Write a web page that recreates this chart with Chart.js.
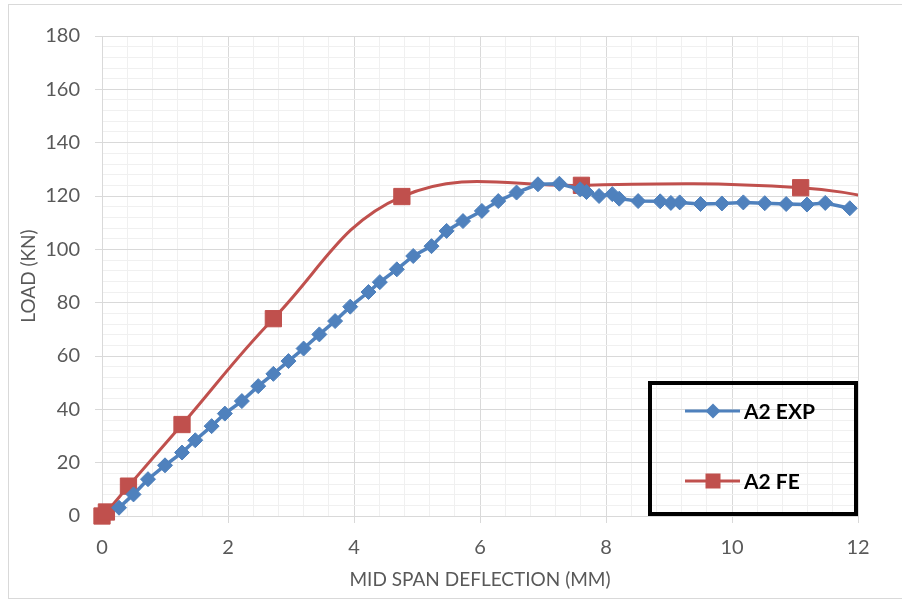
<!DOCTYPE html>
<html>
<head>
<meta charset="utf-8">
<script src="https://cdn.jsdelivr.net/npm/chart.js@4.4.1/dist/chart.umd.min.js"></script>
<style>
    body { margin: 0; background: #fff; }
    canvas { display: block; }
</style>
</head>
<body>
<canvas id="loadChart" width="902" height="601"></canvas>
<script>
// A2 experimental curve (mid span deflection in mm, load in kN)
const expDeflection = [0.27, 0.50, 0.73, 1.00, 1.27, 1.48, 1.74, 1.95, 2.22, 2.48, 2.72, 2.96, 3.20, 3.45, 3.70,
    3.94, 4.23, 4.41, 4.68, 4.94, 5.23, 5.47, 5.73, 6.03, 6.29, 6.58, 6.92, 7.26, 7.59, 7.69, 7.89, 8.10, 8.21,
    8.51, 8.86, 9.03, 9.17, 9.50, 9.84, 10.18, 10.52, 10.86, 11.19, 11.48, 11.87];
const expLoad = [3.1, 8.1, 13.8, 19.0, 23.8, 28.4, 33.7, 38.4, 43.1, 48.7, 53.3, 58.1, 62.8, 68.1, 73.1,
    78.5, 84.0, 87.7, 92.5, 97.5, 101.2, 106.9, 110.6, 114.4, 118.1, 121.3, 124.4, 124.6, 122.5, 121.5, 120.0, 120.7, 119.0,
    118.1, 118.0, 117.4, 117.6, 117.0, 117.2, 117.6, 117.3, 117.0, 116.8, 117.4, 115.4];

// A2 finite element curve
const feDeflection = [0, 0.07, 0.42, 1.27, 2.72, 4.76, 7.61, 11.09, 13.0];
const feLoad = [0, 1.5, 11.2, 34.3, 74.0, 119.8, 124.0, 123.1, 116.0];

const seriesNames = ['A2 EXP', 'A2 FE'];
const xMajorTicks = [0, 2, 4, 6, 8, 10, 12];
const yMajorTicks = [0, 20, 40, 60, 80, 100, 120, 140, 160, 180];

const BLUE = '#4F81BD';
const RED = '#C0504D';
const FONT = 'Lato, "Open Sans", sans-serif';

function toPoints(xs, ys) {
    return xs.map((x, i) => ({ x: x, y: ys[i] }));
}

function isMajor(value, list) {
    return list.some(v => Math.abs(v - value) < 1e-6);
}

// light outer frame like the spreadsheet chart border
const framePlugin = {
    id: 'frame',
    beforeDraw(chart) {
        const ctx = chart.ctx;
        ctx.save();
        ctx.fillStyle = '#fff';
        ctx.fillRect(0, 0, chart.width, chart.height);
        ctx.strokeStyle = '#D9D9D9';
        ctx.lineWidth = 1;
        ctx.strokeRect(8.5, 4.5, chart.width + 10, chart.height - 7);
        ctx.restore();
    }
};

function drawMarker(ctx, style, x, y, r, color) {
    ctx.fillStyle = color;
    ctx.beginPath();
    if (style === 'rectRot') {
        ctx.moveTo(x, y - r);
        ctx.lineTo(x + r, y);
        ctx.lineTo(x, y + r);
        ctx.lineTo(x - r, y);
    } else {
        ctx.rect(x - r, y - r, 2 * r, 2 * r);
    }
    ctx.closePath();
    ctx.fill();
}

// boxed legend sitting inside the plot, bottom right
const boxLegendPlugin = {
    id: 'boxLegend',
    afterDraw(chart) {
        const ctx = chart.ctx;
        const area = chart.chartArea;
        const box = { left: area.right - 208, top: area.bottom - 133, right: area.right - 2, bottom: area.bottom - 2 };
        ctx.save();
        ctx.strokeStyle = '#000';
        ctx.lineWidth = 4;
        ctx.strokeRect(box.left, box.top, box.right - box.left, box.bottom - box.top);

        const rows = [box.top + 28, box.top + 98];
        const styles = ['rectRot', 'rect'];
        const sizes = [7.5, 7.5];
        chart.data.datasets.forEach((ds, i) => {
            const y = rows[i];
            ctx.strokeStyle = ds.borderColor;
            ctx.lineWidth = 3;
            ctx.beginPath();
            ctx.moveTo(box.left + 35, y);
            ctx.lineTo(box.left + 90, y);
            ctx.stroke();
            drawMarker(ctx, styles[i], box.left + 63, y, sizes[i], ds.borderColor);
            ctx.fillStyle = '#000';
            ctx.font = 'bold 21px ' + FONT;
            ctx.textBaseline = 'middle';
            ctx.textAlign = 'left';
            ctx.fillText(ds.label, box.left + 94, y + 1);
        });
        ctx.restore();
    }
};

const ctx = document.getElementById('loadChart').getContext('2d');
new Chart(ctx, {
    type: 'scatter',
    data: {
        datasets: [{
            label: seriesNames[0],
            data: toPoints(expDeflection, expLoad),
            showLine: true,
            borderColor: BLUE,
            backgroundColor: BLUE,
            borderWidth: 3.5,
            tension: 0,
            pointStyle: 'rectRot',
            pointRadius: 7.5,
            pointBorderWidth: 1,
            clip: { left: 15, bottom: 15, right: 0, top: 0 }
        }, {
            label: seriesNames[1],
            data: toPoints(feDeflection, feLoad),
            showLine: true,
            borderColor: RED,
            backgroundColor: RED,
            borderWidth: 3,
            tension: 0.4,
            pointStyle: 'rect',
            pointRadius: 11.5,
            pointBorderWidth: 1,
            clip: { left: 15, bottom: 15, right: 0, top: 0 }
        }]
    },
    options: {
        responsive: false,
        animation: false,
        layout: { padding: { left: 0, top: 36, right: 44, bottom: 0 } },
        plugins: {
            legend: { display: false },
            tooltip: { enabled: false }
        },
        scales: {
            x: {
                type: 'linear',
                min: 0,
                max: 12,
                afterFit: scale => { scale.height = 85; },
                border: { color: '#D9D9D9' },
                grid: {
                    color: c => isMajor(c.tick.value, xMajorTicks) ? '#D9D9D9' : '#F0F0F0',
                    tickColor: c => isMajor(c.tick.value, xMajorTicks) ? '#D9D9D9' : 'rgba(0,0,0,0)',
                    tickLength: 7
                },
                ticks: {
                    stepSize: 0.4,
                    autoSkip: false,
                    maxRotation: 0,
                    padding: 13,
                    color: '#595959',
                    font: { family: FONT, size: 20 },
                    callback: v => isMajor(v, xMajorTicks) ? Math.round(v) : ''
                },
                title: {
                    display: true,
                    text: 'MID SPAN DEFLECTION (MM)',
                    color: '#595959',
                    font: { family: FONT, size: 19 },
                    padding: { top: 0, bottom: 10 }
                }
            },
            y: {
                type: 'linear',
                min: 0,
                max: 180,
                afterFit: scale => { scale.width = 102; },
                border: { color: '#D9D9D9' },
                grid: {
                    color: c => isMajor(c.tick.value, yMajorTicks) ? '#D9D9D9' : '#F0F0F0',
                    tickColor: c => isMajor(c.tick.value, yMajorTicks) ? '#D9D9D9' : 'rgba(0,0,0,0)',
                    tickLength: 7
                },
                ticks: {
                    stepSize: 4,
                    autoSkip: false,
                    padding: 15,
                    color: '#595959',
                    font: { family: FONT, size: 20 },
                    callback: v => isMajor(v, yMajorTicks) ? v : ''
                },
                title: {
                    display: true,
                    text: 'LOAD (KN)',
                    color: '#595959',
                    font: { family: FONT, size: 19 },
                    padding: { top: 17, bottom: 0 }
                }
            }
        }
    },
    plugins: [framePlugin, boxLegendPlugin]
});
</script>
</body>
</html>
